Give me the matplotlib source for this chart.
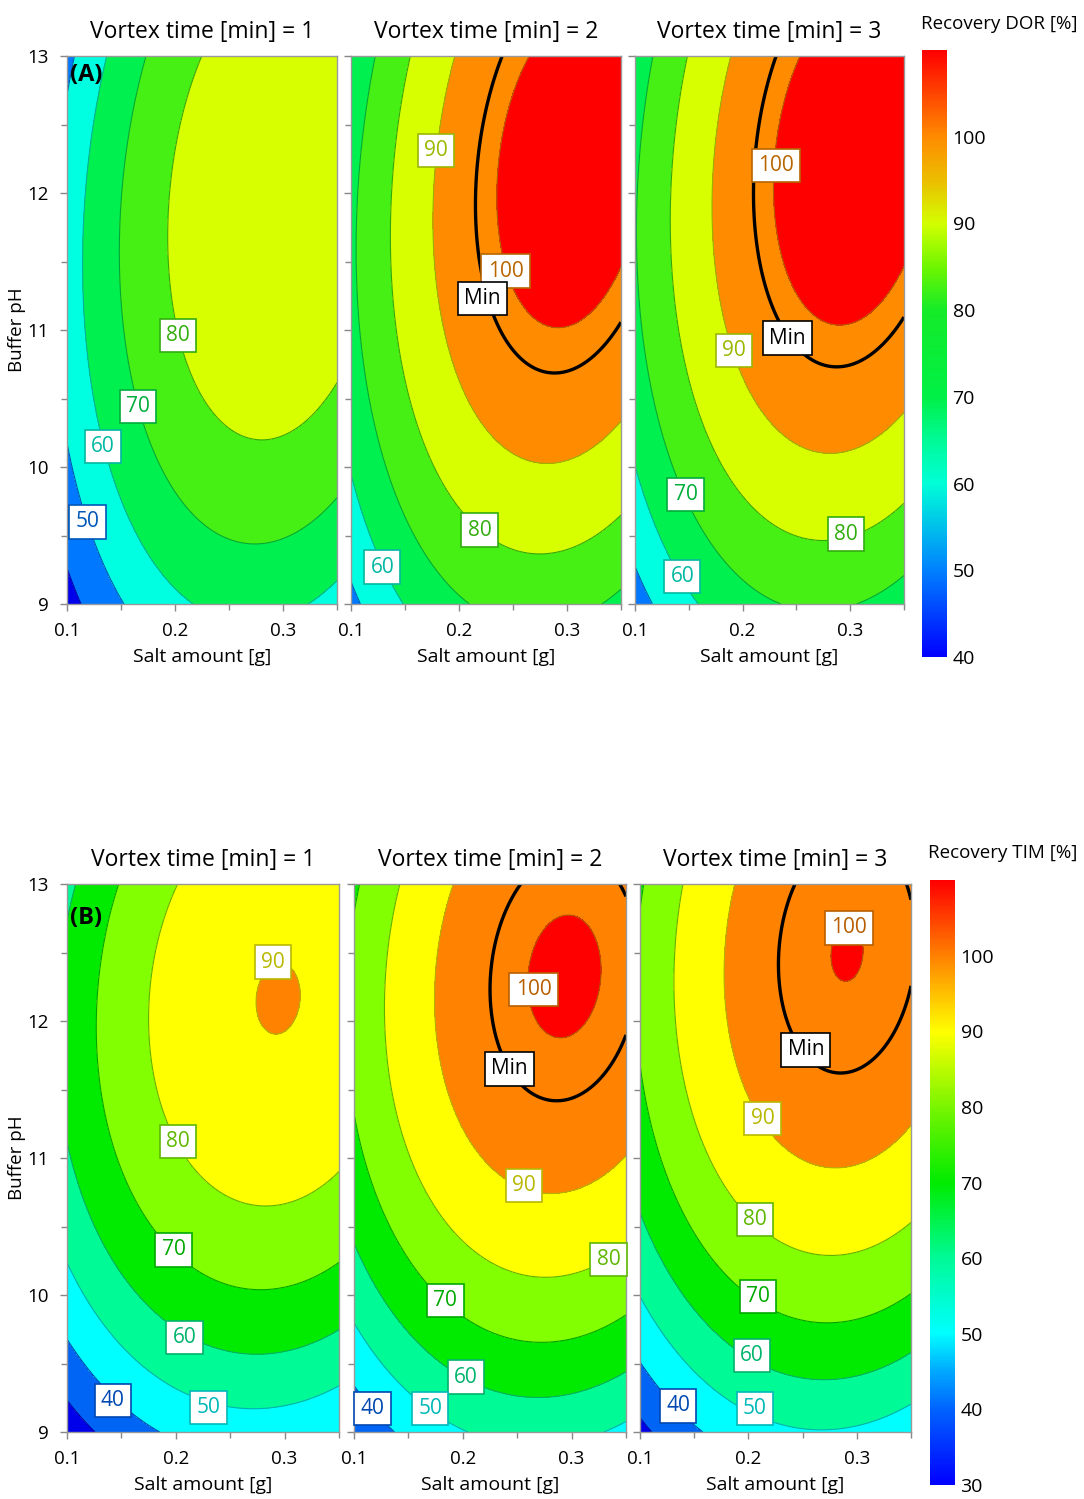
import numpy as np
import matplotlib
matplotlib.use('Agg')
import matplotlib.pyplot as plt
from matplotlib.colors import ListedColormap, BoundaryNorm, LinearSegmentedColormap, Normalize
import matplotlib.colorbar as mcolorbar

plt.rcParams['font.family'] = ['Open Sans', 'DejaVu Sans']

# ---- contour points: level -> [(salt g, pH), ...] ----
dor_t1 = {80: [(0.229, 13), (0.204, 12.45), (0.195, 11.63), (0.204, 10.87), (0.229, 10.39), (0.282, 10.21), (0.35, 10.58)],
          70: [(0.173, 13), (0.149, 11.5), (0.167, 10.39), (0.211, 9.70), (0.276, 9.46), (0.35, 9.78)],
          60: [(0.132, 13), (0.115, 11.5), (0.143, 9.905), (0.171, 9.42), (0.2175, 9.0), (0.32, 9.0), (0.351, 9.17)],
          50: [(0.108, 13), (0.1, 12.66), (0.1, 10.11), (0.112, 9.9), (0.152, 9.0)],
          40: [(0.1, 9.25), (0.112, 9.0)]}
dor_t2 = {100: [(0.265, 13), (0.241, 12.45), (0.237, 12.0), (0.244, 11.44), (0.263, 11.12), (0.288, 11.03), (0.325, 11.12), (0.35, 11.44)],
          90: [(0.196, 13), (0.177, 12.0), (0.182, 11.19), (0.207, 10.55), (0.244, 10.14), (0.275, 10.03), (0.35, 10.35)],
          80: [(0.155, 13), (0.136, 11.5), (0.151, 10.55), (0.182, 9.86), (0.229, 9.48), (0.272, 9.36), (0.35, 9.65)],
          70: [(0.122, 13), (0.106, 11.5), (0.151, 9.6), (0.21, 9.0), (0.35, 9.11)],
          60: [(0.1, 9.9), (0.126, 9.44), (0.148, 9.0)],
          50: [(0.1, 9.16), (0.108, 9.0)]}
dor_t3 = {100: [(0.247, 13), (0.232, 11.98), (0.247, 11.35), (0.297, 11.0), (0.35, 11.5)],
          90: [(0.188, 13), (0.173, 11.98), (0.182, 11.03), (0.216, 10.55), (0.272, 10.14), (0.35, 10.39)],
          80: [(0.15, 13), (0.133, 11.5), (0.145, 10.55), (0.195, 9.86), (0.294, 9.51), (0.35, 9.76)],
          70: [(0.117, 13), (0.103, 11.82), (0.123, 10.24), (0.164, 9.44), (0.241, 9.0), (0.35, 9.16)],
          60: [(0.1, 10.05), (0.133, 9.32), (0.16, 9.0)],
          50: [(0.1, 9.32), (0.117, 9.0)]}
dor_min_t2 = [(0.243, 13), (0.216, 12.14), (0.219, 11.5), (0.238, 11.0), (0.284, 10.65), (0.35, 11.06)]
dor_min_t3 = [(0.23, 13), (0.21, 12.07), (0.216, 11.5), (0.247, 10.93), (0.288, 10.73), (0.35, 11.09)]

tim_t1 = {90: [(0.271, 12.21), (0.314, 12.23), (0.293, 12.46), (0.293, 11.95)],
          80: [(0.201, 13), (0.179, 12.0), (0.188, 11.22), (0.216, 10.9), (0.278, 10.67), (0.35, 10.93)],
          70: [(0.147, 13), (0.130, 11.84), (0.142, 10.9), (0.176, 10.44), (0.222, 10.15), (0.278, 10.05), (0.35, 10.25)],
          60: [(0.1, 11.28), (0.13, 10.28), (0.179, 9.96), (0.216, 9.70), (0.278, 9.56), (0.35, 9.75)],
          50: [(0.1, 10.25), (0.123, 9.96), (0.186, 9.48), (0.232, 9.23), (0.278, 9.16), (0.35, 9.31)],
          40: [(0.1, 9.69), (0.13, 9.37), (0.179, 9.0)],
          30: [(0.1, 9.22), (0.123, 9.0)]}
tim_t2 = {100: [(0.296, 12.74), (0.266, 12.37), (0.272, 12.09), (0.296, 11.95), (0.326, 12.37)],
          90: [(0.189, 13), (0.176, 12.15), (0.182, 11.53), (0.21, 11.06), (0.256, 10.78), (0.284, 10.75), (0.35, 11.01)],
          80: [(0.142, 13), (0.13, 12.0), (0.149, 10.9), (0.195, 10.34), (0.272, 10.12), (0.35, 10.28)],
          70: [(0.104, 13), (0.1, 11.4), (0.133, 10.59), (0.186, 9.97), (0.272, 9.69), (0.35, 9.87)],
          60: [(0.1, 10.4), (0.133, 9.9), (0.204, 9.41), (0.287, 9.28), (0.35, 9.44)],
          50: [(0.1, 9.81), (0.149, 9.25), (0.204, 9.0), (0.35, 9.08)],
          40: [(0.1, 9.34), (0.136, 9.0)]}
tim_t3 = {100: [(0.28, 12.49), (0.312, 12.49), (0.295, 12.26), (0.295, 12.73)],
          90: [(0.189, 13), (0.18, 12.15), (0.189, 11.53), (0.22, 11.22), (0.282, 10.97), (0.351, 11.22)],
          80: [(0.14, 13), (0.132, 12.15), (0.143, 11.37), (0.189, 10.65), (0.278, 10.31), (0.351, 10.53)],
          70: [(0.103, 13), (0.1, 11.68), (0.128, 10.9), (0.183, 10.19), (0.278, 9.84), (0.351, 10.03)],
          60: [(0.1, 10.59), (0.143, 9.9), (0.205, 9.5), (0.282, 9.37), (0.351, 9.56)],
          50: [(0.1, 10.0), (0.143, 9.41), (0.22, 9.06), (0.351, 9.22)],
          40: [(0.1, 9.53), (0.165, 9.0)],
          30: [(0.1, 9.12), (0.112, 9.0)]}
tim_min_t2 = [(0.25, 13), (0.226, 12.28), (0.232, 11.9), (0.259, 11.53), (0.287, 11.42), (0.35, 11.84)]
tim_min_t3 = [(0.248, 13), (0.232, 12.46), (0.235, 12.0), (0.272, 11.65), (0.291, 11.62), (0.351, 12.06)]

# label boxes: (text, salt, pH)
dor_labels = [[('50', 0.119, 9.6), ('60', 0.133, 10.15), ('70', 0.166, 10.44), ('80', 0.203, 10.96)],
              [('90', 0.179, 12.31), ('100', 0.243, 11.43), ('Min', 0.222, 11.23), ('80', 0.219, 9.54), ('60', 0.129, 9.27)],
              [('100', 0.231, 12.2), ('Min', 0.242, 10.94), ('90', 0.192, 10.85), ('70', 0.147, 9.8), ('80', 0.296, 9.51), ('60', 0.144, 9.2)]]
tim_labels = [[('90', 0.289, 12.43), ('80', 0.202, 11.12), ('70', 0.198, 10.33), ('60', 0.208, 9.69), ('40', 0.142, 9.23), ('50', 0.23, 9.18)],
              [('100', 0.265, 12.23), ('Min', 0.243, 11.65), ('90', 0.256, 10.8), ('80', 0.334, 10.26), ('70', 0.184, 9.96),
               ('60', 0.203, 9.4), ('40', 0.117, 9.17), ('50', 0.17, 9.17)],
              [('100', 0.293, 12.68), ('Min', 0.253, 11.79), ('90', 0.213, 11.29), ('80', 0.206, 10.55), ('70', 0.209, 9.99),
               ('60', 0.203, 9.56), ('40', 0.135, 9.19), ('50', 0.206, 9.17)]]

vortex = [1, 2, 3]
salt_ticks = [0.1, 0.2, 0.3]
ph_ticks = [9, 10, 11, 12, 13]

# band colours (band below each level, last = above top level)
dor_levels = [40, 50, 60, 70, 80, 90, 100]
dor_bands = ['#0000eb', '#0078ff', '#00ffe1', '#00f050', '#46f014', '#d7ff00', '#ff8c00', '#ff0000']
tim_levels = [30, 40, 50, 60, 70, 80, 90, 100]
tim_bands = ['#0000eb', '#0064f5', '#00ffff', '#00fa96', '#00eb00', '#82ff00', '#ffff00', '#ff8200', '#ff0000']

dor_cbar = [(40, '#0000ff'), (50, '#0082ff'), (60, '#00ffd7'), (65, '#00fa96'), (70, '#00f046'), (80, '#14eb28'),
            (85, '#6ef500'), (90, '#d2ff00'), (95, '#ebbe00'), (100, '#ff8c00'), (110, '#ff0000')]
tim_cbar = [(30, '#0000ff'), (40, '#0064ff'), (45, '#00aaff'), (50, '#00ffff'), (60, '#00fa96'), (70, '#00eb00'),
            (80, '#78f500'), (90, '#ffff00'), (100, '#ff8200'), (110, '#ff0000')]


def design(s, p):
    u = (np.asarray(s) - 0.225) / 0.125
    v = (np.asarray(p) - 11.0) / 2.0
    return np.stack([np.ones_like(u), u, v, u * u, v * v, u * v], axis=-1)


def fit_surface(obs):
    pts = np.array([(s, p, lvl) for lvl, lst in obs.items() for s, p in lst])
    coef, *_ = np.linalg.lstsq(design(pts[:, 0], pts[:, 1]), pts[:, 2], rcond=None)
    return coef


def darker(c, f=0.7):
    r, g, b = matplotlib.colors.to_rgb(c)
    return (r * f, g * f, b * f)


fig = plt.figure(figsize=(10.84, 14.99), dpi=100)
W, H = 1084.0, 1499.0

S, P = np.meshgrid(np.linspace(0.1, 0.35, 300), np.linspace(9, 13, 300))

groups = [
    dict(obs=[dor_t1, dor_t2, dor_t3], mins=[None, dor_min_t2, dor_min_t3], labels=dor_labels,
         levels=dor_levels, bands=dor_bands, cbar=dor_cbar, lefts=[67, 351, 635], widths=[270, 270, 269],
         top=56, cax=(922, 50, 25, 607), title='Recovery DOR [%]', title_xy=(999, 24), letter='(A)',
         letter_pos=(0.103, 12.86)),
    dict(obs=[tim_t1, tim_t2, tim_t3], mins=[None, tim_min_t2, tim_min_t3], labels=tim_labels,
         levels=tim_levels, bands=tim_bands, cbar=tim_cbar, lefts=[67, 354, 640], widths=[272, 272, 271],
         top=884, cax=(930, 880, 25, 605), title='Recovery TIM [%]', title_xy=(1003, 853), letter='(B)',
         letter_pos=(0.103, 12.75)),
]

for g in groups:
    lv = g['levels']
    cmap = ListedColormap(g['bands'])
    bounds = [-1000] + lv + [1000]
    norm = BoundaryNorm(bounds, cmap.N)
    for i in range(3):
        ax = fig.add_axes([g['lefts'][i] / W, 1 - (g['top'] + 548) / H, g['widths'][i] / W, 548 / H])
        coef = fit_surface(g['obs'][i])
        Z = design(S, P) @ coef
        ax.contourf(S, P, Z, levels=bounds, cmap=cmap, norm=norm)
        ax.contour(S, P, Z, levels=lv, colors=[darker(c) for c in g['bands'][:len(lv)]], linewidths=0.8)
        if g['mins'][i] is not None:
            mp = np.array(g['mins'][i])
            min_level = np.mean(design(mp[:, 0], mp[:, 1]) @ coef)
            ax.contour(S, P, Z, levels=[min_level], colors='black', linewidths=2.4)
        for txt, s, p in g['labels'][i]:
            if txt == 'Min':
                col = 'black'
            else:
                col = darker(g['bands'][lv.index(int(txt))], 0.72)
            ax.text(s, p, txt, color=col, ha='center', va='center', fontsize=15, zorder=5,
                    bbox=dict(boxstyle='square,pad=0.3', fc='white', ec=col, lw=1.2))
        ax.set_xlim(0.1, 0.35)
        ax.set_ylim(9, 13)
        ax.set_xticks(salt_ticks)
        ax.set_xticklabels(['0.1', '0.2', '0.3'])
        ax.set_xticks([0.15, 0.25, 0.35], minor=True)
        ax.set_yticks(ph_ticks)
        ax.set_yticks([9.5, 10.5, 11.5, 12.5], minor=True)
        ax.tick_params(which='both', direction='out', color='#888888', labelsize=13.5, length=5, width=1, pad=8)
        ax.tick_params(which='minor', length=4)
        for sp in ax.spines.values():
            sp.set_color('#999999')
            sp.set_linewidth(1)
        ax.set_xlabel('Salt amount [g]', fontsize=14, labelpad=6)
        ax.set_title('Vortex time [min] = %d' % vortex[i], fontsize=16.5, pad=13)
        if i == 0:
            ax.set_ylabel('Buffer pH', fontsize=13.5, labelpad=1)
            ax.text(g['letter_pos'][0], g['letter_pos'][1], g['letter'], fontsize=17, fontweight='bold',
                    ha='left', va='center', zorder=6)
        else:
            ax.tick_params(axis='y', labelleft=False)

    # colour bar
    x0, y0, w, h = g['cax']
    cax = fig.add_axes([x0 / W, 1 - (y0 + h) / H, w / W, h / H])
    vmin, vmax = g['cbar'][0][0], g['cbar'][-1][0]
    ccmap = LinearSegmentedColormap.from_list(
        'cb', [((v - vmin) / (vmax - vmin), c) for v, c in g['cbar']])
    cb = mcolorbar.ColorbarBase(cax, cmap=ccmap, norm=Normalize(vmin, vmax), orientation='vertical')
    cb.set_ticks(list(range(vmin, 101, 10)))
    cb.outline.set_visible(False)
    cax.tick_params(length=0, labelsize=14, pad=4)
    fig.text(g['title_xy'][0] / W, 1 - g['title_xy'][1] / H, g['title'], ha='center', va='center', fontsize=13.5)

fig.savefig('out.png', dpi=100)
